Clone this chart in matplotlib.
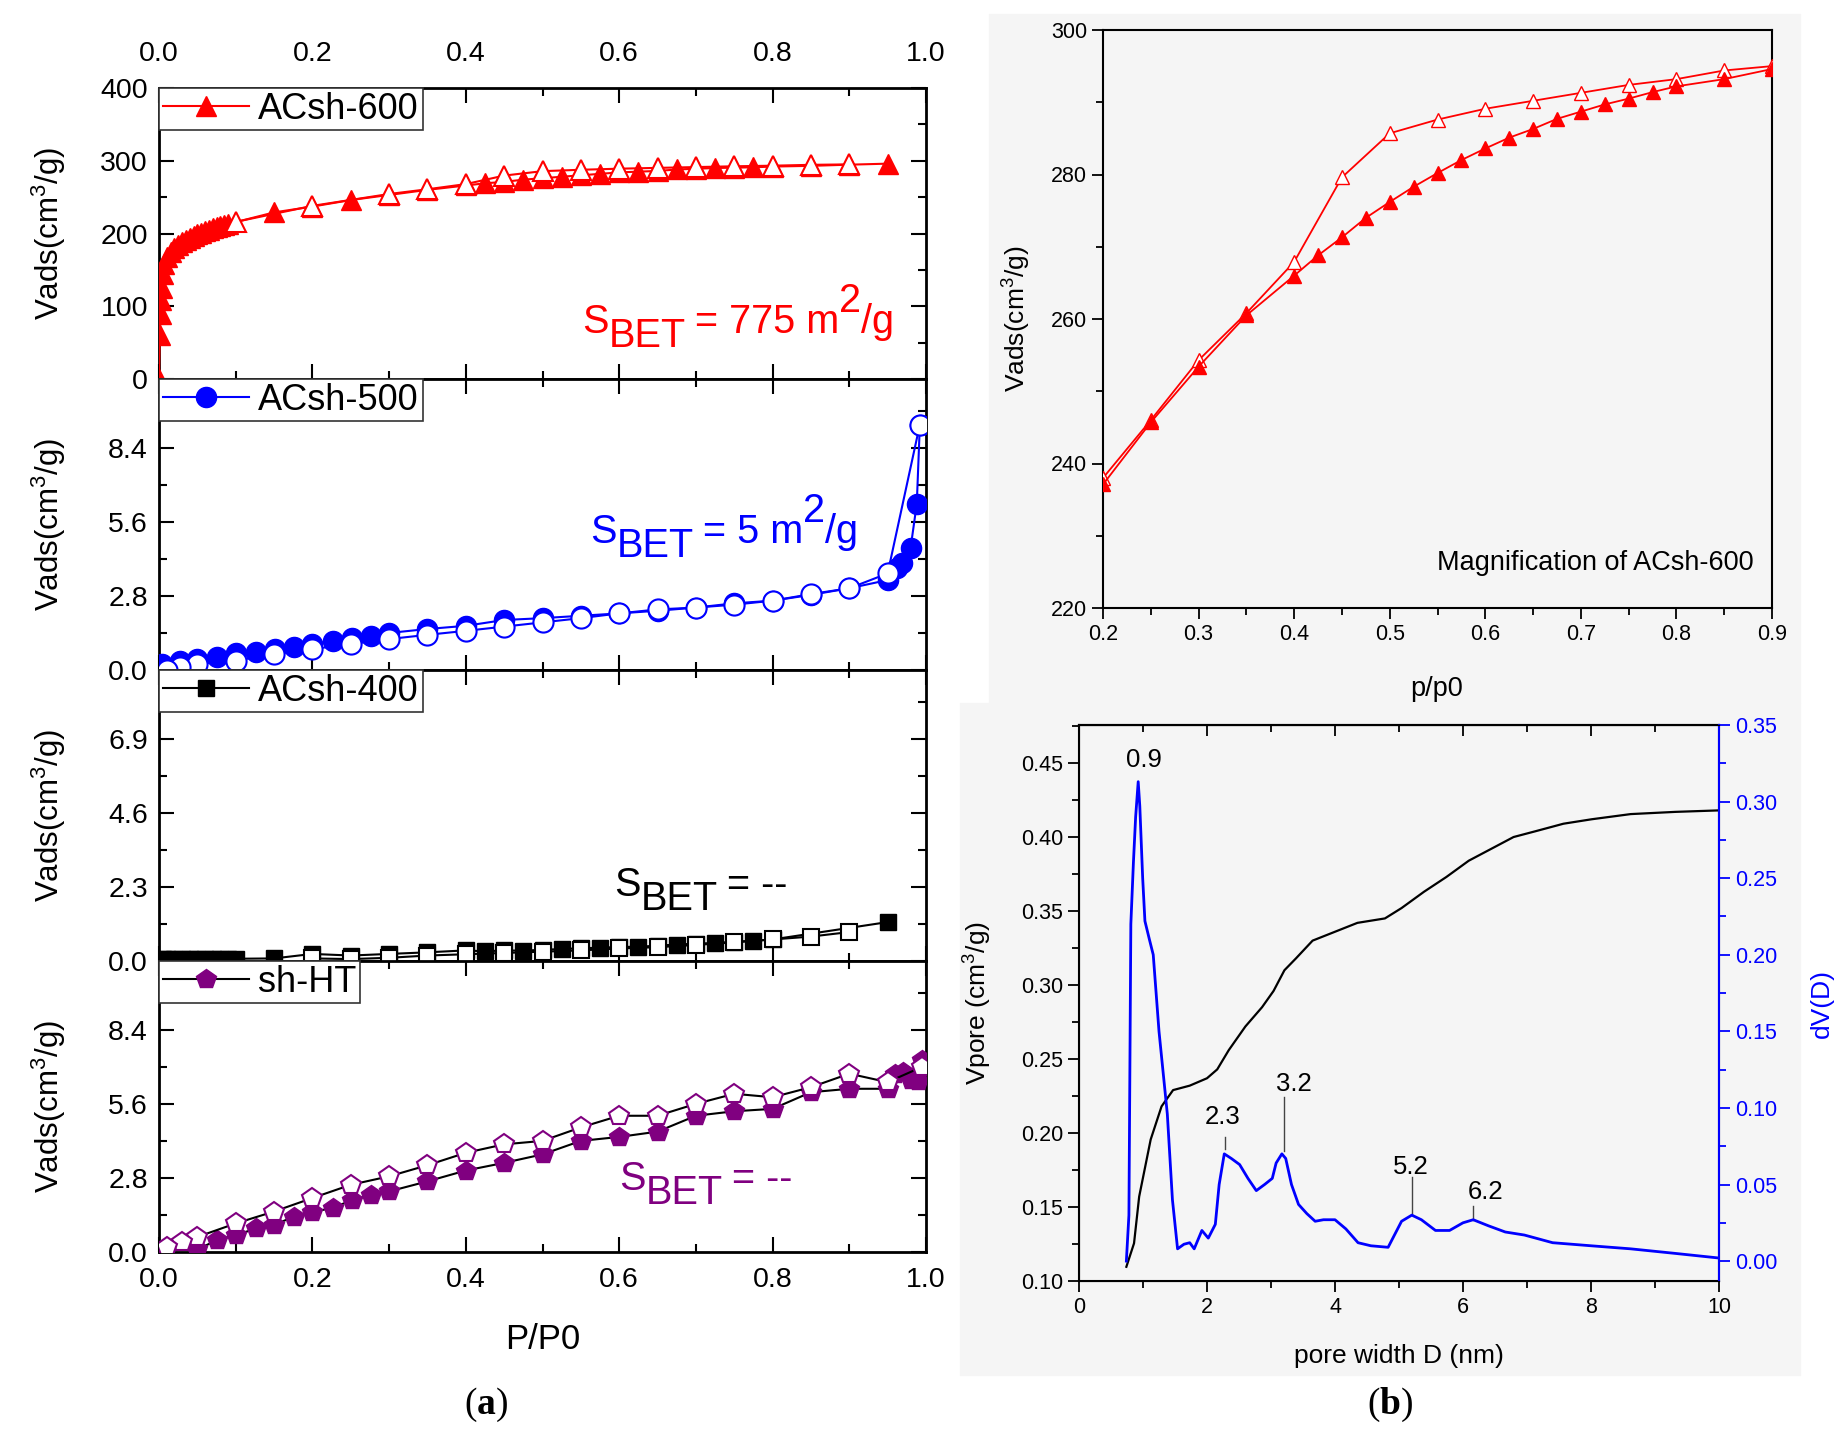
import matplotlib
matplotlib.use('Agg')
import matplotlib.pyplot as plt
from matplotlib.ticker import MultipleLocator, FormatStrFormatter
from matplotlib.patches import Rectangle

plt.rcParams['font.family'] = ['Liberation Sans', 'DejaVu Sans']
plt.rcParams['mathtext.fontset'] = 'custom'
plt.rcParams['mathtext.rm'] = 'Liberation Sans'
plt.rcParams['mathtext.it'] = 'Liberation Sans:italic'
plt.rcParams['mathtext.bf'] = 'Liberation Serif:bold'

# ---- (a) isotherms ----
ads600_x = [0.0, 0.001, 0.002, 0.003, 0.004, 0.005, 0.007, 0.01, 0.015, 0.02, 0.025, 0.03, 0.035,
            0.04, 0.045, 0.05, 0.055, 0.06, 0.065, 0.07, 0.075, 0.08, 0.085, 0.09, 0.15, 0.2, 0.25,
            0.3, 0.35, 0.4, 0.425, 0.45, 0.475, 0.5, 0.525, 0.55, 0.575, 0.6, 0.625, 0.65, 0.675,
            0.7, 0.725, 0.75, 0.775, 0.8, 0.85, 0.9, 0.95]
ads600_y = [0, 60, 90, 108, 125, 145, 158, 168, 175, 180, 184, 188, 191, 194, 197, 199, 201, 203,
            205, 207, 209, 210, 212, 213, 229, 237, 246, 253, 260, 266, 269, 271, 274, 276, 278,
            280, 282, 284, 285, 286, 288, 289, 290, 290.5, 291, 292, 293, 294.6, 296]
des600_x = [0.1, 0.2, 0.3, 0.35, 0.4, 0.45, 0.5, 0.55, 0.6, 0.65, 0.7, 0.75, 0.8, 0.85, 0.9]
des600_y = [216, 238, 254.3, 260.8, 267.9, 279.6, 285.7, 287.6, 289.1, 290.2, 291.3, 292.4,
            293.2, 294.4, 295.0]

ads500_x = [0.004, 0.027, 0.05, 0.076, 0.1, 0.127, 0.151, 0.176, 0.2, 0.227, 0.252, 0.277, 0.3,
            0.35, 0.4, 0.45, 0.5, 0.55, 0.6, 0.65, 0.7, 0.75, 0.8, 0.85, 0.9, 0.95, 0.962, 0.969,
            0.98, 0.988, 0.992]
ads500_y = [0.23, 0.35, 0.41, 0.50, 0.63, 0.67, 0.79, 0.86, 0.98, 1.11, 1.21, 1.30, 1.40, 1.55,
            1.67, 1.89, 1.96, 2.05, 2.14, 2.24, 2.36, 2.52, 2.62, 2.84, 3.09, 3.40, 3.85, 4.06,
            4.63, 6.29, 9.28]
des500_x = [0.992, 0.95, 0.9, 0.85, 0.8, 0.75, 0.7, 0.65, 0.6, 0.55, 0.5, 0.45, 0.4, 0.35, 0.3,
            0.25, 0.2, 0.15, 0.1, 0.05, 0.027, 0.01]
des500_y = [9.28, 3.65, 3.09, 2.87, 2.62, 2.47, 2.36, 2.29, 2.14, 1.96, 1.80, 1.64, 1.48, 1.33,
            1.17, 0.98, 0.79, 0.60, 0.35, 0.23, 0.10, 0.0]

ads400_x = [0.005, 0.01, 0.02, 0.03, 0.04, 0.05, 0.06, 0.07, 0.08, 0.09, 0.1, 0.15, 0.2, 0.25,
            0.3, 0.35, 0.4, 0.425, 0.45, 0.475, 0.5, 0.525, 0.55, 0.575, 0.6, 0.625, 0.65, 0.675,
            0.7, 0.725, 0.75, 0.775, 0.8, 0.95]
ads400_y = [0.07, 0.07, 0.07, 0.07, 0.07, 0.07, 0.07, 0.07, 0.07, 0.07, 0.07, 0.08, 0.22, 0.17,
            0.22, 0.27, 0.33, 0.30, 0.33, 0.32, 0.35, 0.37, 0.40, 0.41, 0.44, 0.44, 0.48, 0.51,
            0.54, 0.56, 0.60, 0.63, 0.67, 1.21]
des400_x = [0.9, 0.85, 0.8, 0.75, 0.7, 0.65, 0.6, 0.55, 0.5, 0.45, 0.4, 0.35, 0.3, 0.25, 0.2]
des400_y = [0.90, 0.76, 0.67, 0.58, 0.50, 0.43, 0.39, 0.33, 0.29, 0.25, 0.21, 0.17, 0.10, 0.06, 0.08]

adsHT_x = [0.05, 0.076, 0.1, 0.127, 0.15, 0.176, 0.2, 0.227, 0.252, 0.277, 0.3, 0.35, 0.4, 0.45,
           0.5, 0.55, 0.6, 0.65, 0.7, 0.75, 0.8, 0.85, 0.9, 0.95, 0.96, 0.97, 0.98, 0.99, 0.995]
adsHT_y = [0.10, 0.45, 0.64, 0.89, 1.02, 1.34, 1.50, 1.68, 1.96, 2.16, 2.29, 2.67, 3.08, 3.37,
           3.69, 4.20, 4.35, 4.55, 5.15, 5.32, 5.41, 6.04, 6.17, 6.17, 6.74, 6.80, 6.49, 6.46, 7.25]
desHT_x = [0.995, 0.95, 0.9, 0.85, 0.8, 0.75, 0.7, 0.65, 0.6, 0.55, 0.5, 0.45, 0.4, 0.35, 0.3,
           0.25, 0.2, 0.15, 0.1, 0.05, 0.03, 0.01]
desHT_y = [7.0, 6.42, 6.74, 6.23, 5.85, 5.98, 5.60, 5.15, 5.15, 4.71, 4.20, 4.07, 3.75, 3.28,
           2.86, 2.54, 2.04, 1.53, 1.08, 0.57, 0.38, 0.19]

# ---- (b) magnification of ACsh-600 ----
mag_ads_x = [0.2, 0.25, 0.3, 0.35, 0.4, 0.425, 0.45, 0.475, 0.5, 0.525, 0.55, 0.575, 0.6, 0.625,
             0.65, 0.675, 0.7, 0.725, 0.75, 0.775, 0.8, 0.85, 0.9]
mag_ads_y = [237.1, 245.7, 253.4, 260.5, 266.0, 268.8, 271.3, 274.0, 276.2, 278.3, 280.2, 282.0,
             283.6, 285.1, 286.3, 287.7, 288.7, 289.7, 290.5, 291.4, 292.2, 293.2, 294.6]
mag_des_x = [0.2, 0.25, 0.3, 0.35, 0.4, 0.45, 0.5, 0.55, 0.6, 0.65, 0.7, 0.75, 0.8, 0.85, 0.9]
mag_des_y = [238.0, 246.0, 254.3, 260.8, 267.9, 279.6, 285.7, 287.6, 289.1, 290.2, 291.3, 292.4,
             293.2, 294.4, 295.0]

# ---- (b) pore size distribution ----
vpore_D = [0.74, 0.86, 0.94, 1.12, 1.29, 1.47, 1.73, 2.0, 2.16, 2.34, 2.6, 2.86, 3.04, 3.21, 3.39,
           3.65, 4.0, 4.35, 4.78, 5.04, 5.39, 5.74, 6.09, 6.44, 6.79, 7.14, 7.57, 8.01, 8.62,
           9.32, 10.0]
vpore_V = [0.1096, 0.1255, 0.157, 0.1956, 0.218, 0.229, 0.232, 0.237, 0.243, 0.256, 0.272, 0.285,
           0.296, 0.310, 0.318, 0.330, 0.336, 0.342, 0.345, 0.352, 0.363, 0.373, 0.384, 0.392,
           0.400, 0.404, 0.409, 0.412, 0.4155, 0.417, 0.418]
dv_D = [0.74, 0.78, 0.81, 0.85, 0.885, 0.925, 0.95, 0.995, 1.03, 1.1, 1.16, 1.25, 1.38, 1.46,
        1.54, 1.64, 1.73, 1.80, 1.92, 2.02, 2.13, 2.19, 2.27, 2.38, 2.51, 2.64, 2.77, 2.9, 3.02,
        3.08, 3.17, 3.23, 3.32, 3.43, 3.56, 3.69, 3.82, 4.0, 4.17, 4.36, 4.56, 4.83, 5.04, 5.2,
        5.35, 5.57, 5.79, 6.0, 6.16, 6.4, 6.66, 6.96, 7.4, 8.0, 8.62, 9.32, 10.0]
dv_V = [0.0, 0.03, 0.22, 0.26, 0.29, 0.313, 0.297, 0.25, 0.222, 0.21, 0.2, 0.15, 0.096, 0.04,
        0.008, 0.011, 0.012, 0.008, 0.02, 0.015, 0.024, 0.05, 0.07, 0.067, 0.063, 0.054, 0.046,
        0.05, 0.054, 0.064, 0.07, 0.067, 0.05, 0.037, 0.031, 0.026, 0.027, 0.027, 0.021, 0.012,
        0.01, 0.009, 0.026, 0.03, 0.027, 0.02, 0.02, 0.025, 0.027, 0.023, 0.019, 0.017, 0.012,
        0.01, 0.008, 0.005, 0.002]
peak_labels = ['0.9', '2.3', '3.2', '5.2', '6.2']
peak_text_xy = [(1.01, 0.452), (2.25, 0.211), (3.36, 0.233), (5.18, 0.177), (6.35, 0.160)]
peak_line = [None, (2.28, 0.197, 0.189), (3.2, 0.224, 0.188), (5.2, 0.170, 0.145), (6.15, 0.151, 0.141)]

W, H = 1836, 1440
fig = plt.figure(figsize=(W / 100, H / 100), dpi=100)
renderer = fig.canvas.get_renderer()

# light grey background of the right-hand pictures
fig.patches.append(Rectangle((989 / W, 1 - 703 / H), 811 / W, 689 / H, transform=fig.transFigure,
                             color='#f5f5f5', zorder=-5))
fig.patches.append(Rectangle((960 / W, 1 - 1375 / H), 840 / W, 672 / H, transform=fig.transFigure,
                             color='#f5f5f5', zorder=-5))


def sbet(x0, base, value, color, size=28.5):
    # S, subscript BET, '= value' -- drawn piece by piece (pixel positions, top origin)
    if value is None:
        parts = [('S', 0, 0), ('BET', -14, 0), ('= --', 0, 9)]
    else:
        parts = [('S', 0, 0), ('BET', -14, 0), ('= %s m' % value, 0, 9), ('2', 21, 0), ('/g', 0, 0)]
    x = x0
    for s, dy, gap in parts:
        x += gap
        t = fig.text(x / W, 1 - (base - dy) / H, s, fontsize=size, color=color,
                     ha='left', va='baseline')
        x = t.get_window_extent(renderer).x1


# left stack
lx, lw = 159 / W, 767 / W
tops = [88, 379, 670, 961]
ph = 291
purple = '#800080'
panels = [
    dict(ax_=ads600_x, ay=ads600_y, dx=des600_x, dy=des600_y, line='red', mc='red', m='^', ms=15,
         label='ACsh-600', ymax=400, step=100, sval='775', sx=582, sb=333, scol='red'),
    dict(ax_=ads500_x, ay=ads500_y, dx=des500_x, dy=des500_y, line='blue', mc='blue', m='o', ms=14.5,
         label='ACsh-500', ymax=11.0, step=2.8, sval='5', sx=590, sb=543, scol='blue'),
    dict(ax_=ads400_x, ay=ads400_y, dx=des400_x, dy=des400_y, line='black', mc='black', m='s', ms=11,
         label='ACsh-400', ymax=9.05, step=2.3, sval=None, sx=614, sb=896, scol='black'),
    dict(ax_=adsHT_x, ay=adsHT_y, dx=desHT_x, dy=desHT_y, line='black', mc=purple, m='p', ms=14.5,
         label='sh-HT', ymax=11.0, step=2.8, sval=None, sx=619, sb=1190, scol=purple),
]
for i, p in enumerate(panels):
    ax = fig.add_axes([lx, 1 - (tops[i] + ph) / H, lw, ph / H])
    ax.plot(p['ax_'], p['ay'], color=p['line'], lw=1.5, marker=p['m'], ms=p['ms'],
            mfc=p['mc'], mec=p['mc'], label=p['label'], zorder=3)
    ax.plot(p['dx'], p['dy'], color=p['line'], lw=1.5, marker=p['m'], ms=p['ms'],
            mfc='white', mec=p['mc'], mew=1.5, zorder=4)
    ax.set_xlim(0, 1.0)
    ax.set_ylim(0, p['ymax'])
    ax.xaxis.set_major_locator(MultipleLocator(0.2))
    ax.xaxis.set_minor_locator(MultipleLocator(0.1))
    ax.yaxis.set_minor_locator(MultipleLocator(p['step'] / 2))
    if i == 0:
        ax.set_yticks([0, 100, 200, 300, 400])
        ax.set_yticklabels(['0', '100', '200', '300', '400'])
    else:
        ticks = [0, p['step'], 2 * p['step'], 3 * p['step']]
        ax.set_yticks(ticks)
        ax.set_yticklabels(['%.1f' % t for t in ticks])
    ax.tick_params(which='both', direction='in', top=True, right=True, labelsize=20.5, width=1.5,
                   labelbottom=(i == 3), labeltop=(i == 0), pad=8)
    ax.tick_params(which='major', length=11)
    ax.tick_params(which='minor', length=6)
    ax.tick_params(axis='x', which='major', pad=15 if i == 0 else 11)
    for s in ax.spines.values():
        s.set_linewidth(2)
    ax.set_ylabel(r'Vads(cm$^3$/g)', fontsize=22.5)
    ax.yaxis.set_label_coords(-0.119, 0.5)
    leg = ax.legend(loc='upper left', borderaxespad=0, fontsize=26, handlelength=2.4,
                    handletextpad=0.25, borderpad=0.1, fancybox=False, framealpha=1,
                    edgecolor='#333333', numpoints=1)
    leg.get_frame().set_linewidth(1.2)
    leg.set_zorder(10)
    sbet(p['sx'], p['sb'], p['sval'], p['scol'])
    if i == 3:
        ax.set_xlabel('P/P0', fontsize=25)
        ax.xaxis.set_label_coords(0.5, -0.245)

fig.text(486 / W, 1 - 1405 / H, r'($\mathbf{a}$)', fontsize=27, ha='center', va='center',
         family='Liberation Serif')

# right top: magnification
axm = fig.add_axes([1103 / W, 1 - 608 / H, 669 / W, 578 / H])
axm.set_facecolor('#f5f5f5')
axm.plot(mag_des_x, mag_des_y, color='red', lw=1.3, marker='^', ms=10, mfc='white', mec='red',
         mew=1.0, zorder=3)
axm.plot(mag_ads_x, mag_ads_y, color='red', lw=1.3, marker='^', ms=10, mfc='red', mec='red',
         zorder=4)
axm.set_xlim(0.2, 0.9)
axm.set_ylim(220, 300)
axm.xaxis.set_major_locator(MultipleLocator(0.1))
axm.xaxis.set_minor_locator(MultipleLocator(0.05))
axm.yaxis.set_major_locator(MultipleLocator(20))
axm.yaxis.set_minor_locator(MultipleLocator(10))
axm.tick_params(which='both', direction='out', labelsize=15.5, width=1.3)
axm.tick_params(which='major', length=8)
axm.tick_params(which='minor', length=5)
for s in axm.spines.values():
    s.set_linewidth(1.5)
axm.set_xlabel('p/p0', fontsize=19.5)
axm.xaxis.set_label_coords(0.498, -0.117)
axm.set_ylabel(r'Vads(cm$^3$/g)', fontsize=19)
axm.yaxis.set_label_coords(-0.105, 0.5)
axm.text(0.972, 0.078, 'Magnification of ACsh-600', fontsize=19.5, ha='right', va='center',
         transform=axm.transAxes)

# right bottom: pore size distribution
axp = fig.add_axes([1079 / W, 1 - 1281 / H, 640 / W, 556 / H])
axp.set_facecolor('#f5f5f5')
axp.plot(vpore_D, vpore_V, color='black', lw=1.6)
axp.set_xlim(0, 10)
axp.set_ylim(0.10, 0.4757)
axp.xaxis.set_major_locator(MultipleLocator(2))
axp.xaxis.set_minor_locator(MultipleLocator(1))
axp.yaxis.set_major_locator(MultipleLocator(0.05))
axp.yaxis.set_minor_locator(MultipleLocator(0.025))
axp.yaxis.set_major_formatter(FormatStrFormatter('%.2f'))
axp.tick_params(which='both', direction='out', labelsize=15.5, width=1.3)
axp.tick_params(which='major', length=8)
axp.tick_params(which='minor', length=5)
sec = axp.secondary_xaxis('top')
sec.xaxis.set_major_locator(MultipleLocator(2))
sec.xaxis.set_minor_locator(MultipleLocator(1))
sec.tick_params(which='both', direction='in', labeltop=False, width=1.3)
sec.tick_params(which='major', length=8)
sec.tick_params(which='minor', length=5)
for s in list(axp.spines.values()) + list(sec.spines.values()):
    s.set_linewidth(1.5)
axp.set_xlabel('pore width D (nm)', fontsize=19)
axp.xaxis.set_label_coords(0.5, -0.113)
axp.set_ylabel(r'Vpore (cm$^3$/g)', fontsize=19)
axp.yaxis.set_label_coords(-0.133, 0.5)
for lab, (tx, ty), ln in zip(peak_labels, peak_text_xy, peak_line):
    axp.text(tx, ty, lab, fontsize=18.5, ha='center', va='center', zorder=6)
    if ln is not None:
        axp.plot([ln[0], ln[0]], [ln[1], ln[2]], color='#444444', lw=1.0, zorder=6)

axr = axp.twinx()
axr.plot(dv_D, dv_V, color='blue', lw=2.0)
axr.set_ylim(-0.013, 0.35)
axr.yaxis.set_major_locator(MultipleLocator(0.05))
axr.yaxis.set_minor_locator(MultipleLocator(0.025))
axr.yaxis.set_major_formatter(FormatStrFormatter('%.2f'))
axr.tick_params(which='both', direction='out', labelsize=15.5, width=1.3, colors='blue')
axr.tick_params(which='major', length=8)
axr.tick_params(which='minor', length=5)
axr.spines['right'].set_color('blue')
axr.spines['right'].set_linewidth(1.5)
axr.set_ylabel('dV(D)', fontsize=19, color='blue')
axr.yaxis.set_label_coords(1.142, 0.5)

fig.text(1390 / W, 1 - 1405 / H, r'($\mathbf{b}$)', fontsize=27, ha='center', va='center',
         family='Liberation Serif')

fig.savefig('out.png', dpi=100)
